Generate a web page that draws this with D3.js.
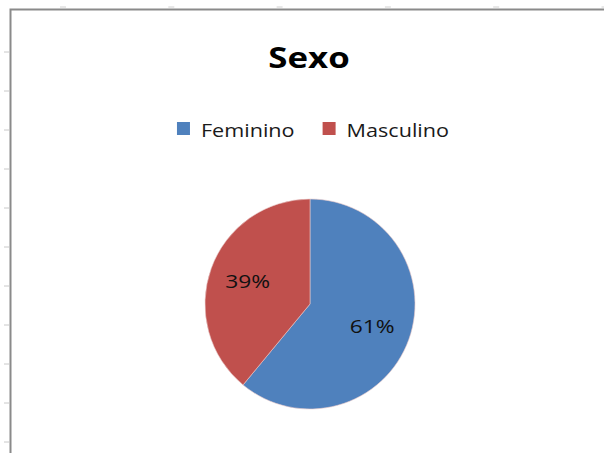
<!DOCTYPE html>
<html>
<head>
<meta charset="utf-8">
<script src="https://cdn.jsdelivr.net/npm/d3@7"></script>
<style>
  body { margin: 0; background: #fff; }
  text { font-family: "Open Sans", "DejaVu Sans", sans-serif; }
</style>
</head>
<body>
<script>
// chart data
const categories = ["Feminino", "Masculino"];
const values = [61, 39];
const colors = ["#4F81BD", "#C0504D"];
const title = "Sexo";

const w = 604;
const h = 453;
const stretch = 1.2; // text in the screenshot is drawn wide

const svg = d3.select("body")
              .append("svg")
              .attr("width", w)
              .attr("height", h);

svg.append("rect").attr("width", w).attr("height", h).attr("fill", "#fff");

// faint sheet grid marks outside the chart frame
svg.selectAll("line.rowtick")
   .data(d3.range(0, 11))
   .enter()
   .append("line")
   .attr("x1", 4).attr("x2", 9)
   .attr("y1", d => 52 + d * 39)
   .attr("y2", d => 52 + d * 39)
   .attr("stroke", "#c8c8c8");

svg.selectAll("line.coltick")
   .data(d3.range(0, 6))
   .enter()
   .append("line")
   .attr("x1", d => 60 + d * 108.3)
   .attr("x2", d => 66 + d * 108.3)
   .attr("y1", 7).attr("y2", 7)
   .attr("stroke", "#d0d0d0");

// chart frame (runs off the right and bottom)
svg.append("rect")
   .attr("x", 10.5).attr("y", 9.5)
   .attr("width", 640).attr("height", 480)
   .attr("fill", "#fff")
   .attr("stroke", "#8a8a8a")
   .attr("stroke-width", 2);

// title
svg.append("text")
   .attr("transform", `translate(309,68) scale(${stretch},1)`)
   .attr("text-anchor", "middle")
   .attr("font-size", 29)
   .attr("font-weight", "bold")
   .attr("fill", "#000")
   .text(title);

// legend
const legend = svg.append("g");
let lx = 0;
categories.forEach((c, i) => {
    const item = legend.append("g").attr("transform", `translate(${lx},0)`);
    item.append("rect")
        .attr("x", 0).attr("y", 122)
        .attr("width", 13).attr("height", 13)
        .attr("fill", colors[i]);
    const t = item.append("text")
        .attr("transform", `translate(24,137) scale(${stretch},1)`)
        .attr("font-size", 18)
        .attr("fill", "#1a1a1a")
        .text(c);
    lx += 24 + t.node().getComputedTextLength() * stretch + 28;
});
const legendWidth = lx - 28;
legend.attr("transform", `translate(${313 - legendWidth / 2},0)`);

// pie
const cx = 310, cy = 304, r = 105;
const pie = d3.pie().sort(null).value(d => d)(values);
const arc = d3.arc().innerRadius(0).outerRadius(r);
const labelArc = d3.arc().innerRadius(r * 0.63).outerRadius(r * 0.63);
const total = d3.sum(values);

const g = svg.append("g").attr("transform", `translate(${cx},${cy})`);

g.selectAll("path")
 .data(pie)
 .enter()
 .append("path")
 .attr("d", arc)
 .attr("fill", (d, i) => colors[i])
 .attr("stroke", "#e8c8c8")
 .attr("stroke-width", 0.6);

g.selectAll("text")
 .data(pie)
 .enter()
 .append("text")
 .attr("transform", d => {
     const [x, y] = labelArc.centroid(d);
     return `translate(${x},${y}) scale(${stretch},1)`;
 })
 .attr("text-anchor", "middle")
 .attr("dy", "0.36em")
 .attr("font-size", 19)
 .attr("fill", "#111")
 .text(d => Math.round(d.value / total * 100) + "%");
</script>
</body>
</html>
